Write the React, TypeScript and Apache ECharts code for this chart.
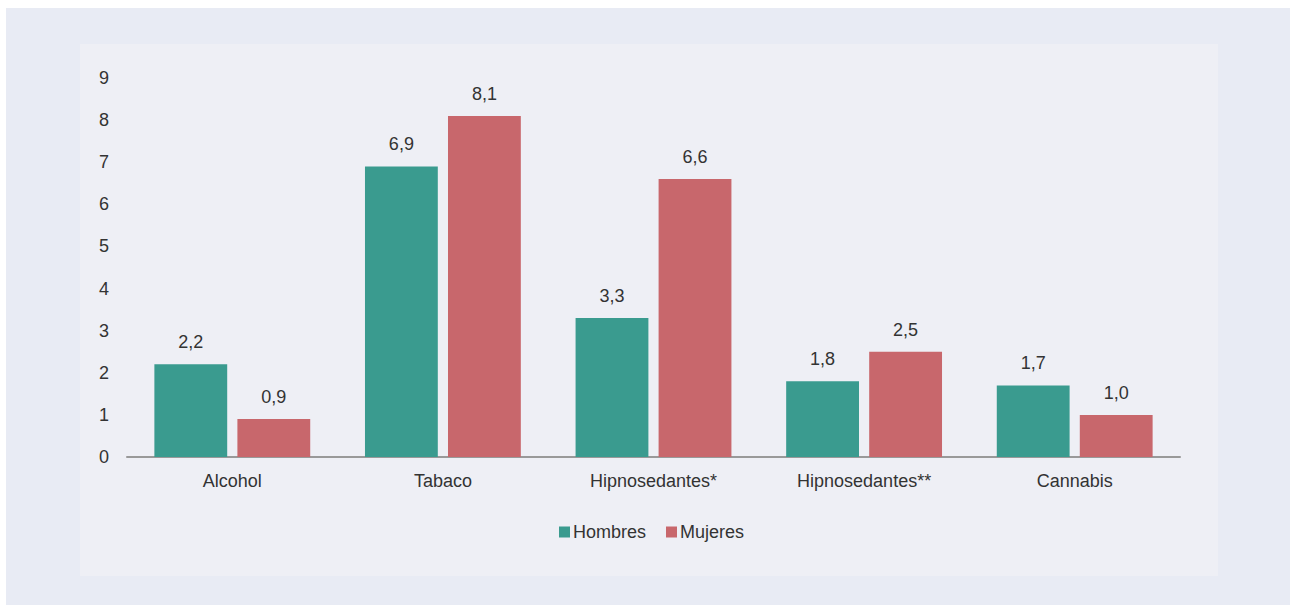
import React, { useEffect, useRef } from "react";
import * as echarts from "echarts";

const categories = ["Alcohol", "Tabaco", "Hipnosedantes*", "Hipnosedantes**", "Cannabis"];
const hombres = [2.2, 6.9, 3.3, 1.8, 1.7];
const mujeres = [0.9, 8.1, 6.6, 2.5, 1.0];
const yTicks = [0, 1, 2, 3, 4, 5, 6, 7, 8, 9];

const FONT = "'Liberation Sans', Arial, Helvetica, sans-serif";
const TEXT = "#333333";
const FS = 18;

export default function App() {
  const ref = useRef<HTMLDivElement>(null);
  useEffect(() => {
    if (!ref.current) return;
    const chart = echarts.init(ref.current, undefined, { renderer: "svg" });
    const fmt = (p: any) => Number(p.value).toFixed(1).replace(".", ",");
    chart.setOption({
      animation: false,
      backgroundColor: "#ffffff",
      textStyle: { fontFamily: FONT },
      graphic: [
        { type: "rect", z: -10, shape: { x: 6, y: 8, width: 1284, height: 597 }, style: { fill: "#e8ebf4" } },
        { type: "rect", z: -9, shape: { x: 80, y: 44, width: 1138, height: 532 }, style: { fill: "#eeeff5" } },
      ],
      grid: { left: 127, right: 110, top: 78, bottom: 148 },
      legend: {
        data: ["Hombres", "Mujeres"],
        bottom: 59,
        left: 554,
        icon: "rect",
        itemWidth: 11,
        itemHeight: 11,
        itemGap: 20,
        textStyle: { fontFamily: FONT, fontSize: FS, color: TEXT, padding: [0, 0, 0, -2] },
      },
      xAxis: {
        type: "category",
        data: categories,
        axisLine: { show: true, lineStyle: { color: "#999999", width: 2 } },
        axisTick: { show: false },
        axisLabel: { fontFamily: FONT, fontSize: FS, color: TEXT, margin: 15 },
      },
      yAxis: {
        type: "value",
        min: yTicks[0],
        max: yTicks[yTicks.length - 1],
        interval: 1,
        axisLine: { show: false },
        axisTick: { show: false },
        splitLine: { show: false },
        axisLabel: { fontFamily: FONT, fontSize: FS, color: TEXT, margin: 18 },
      },
      series: [
        {
          name: "Hombres",
          type: "bar",
          data: hombres,
          barCategoryGap: "26%",
          barGap: "14%",
          itemStyle: { color: "#3a9b8f" },
          label: { show: true, position: "top", distance: 13, formatter: fmt, fontFamily: FONT, fontSize: FS, color: TEXT },
        },
        {
          name: "Mujeres",
          type: "bar",
          data: mujeres,
          barCategoryGap: "26%",
          barGap: "14%",
          itemStyle: { color: "#c8676c" },
          label: { show: true, position: "top", distance: 13, formatter: fmt, fontFamily: FONT, fontSize: FS, color: TEXT },
        },
      ],
    });
    return () => chart.dispose();
  }, []);
  return <div ref={ref} style={{ position: "fixed", left: 0, top: 0, width: 1290, height: 605 }} />;
}
